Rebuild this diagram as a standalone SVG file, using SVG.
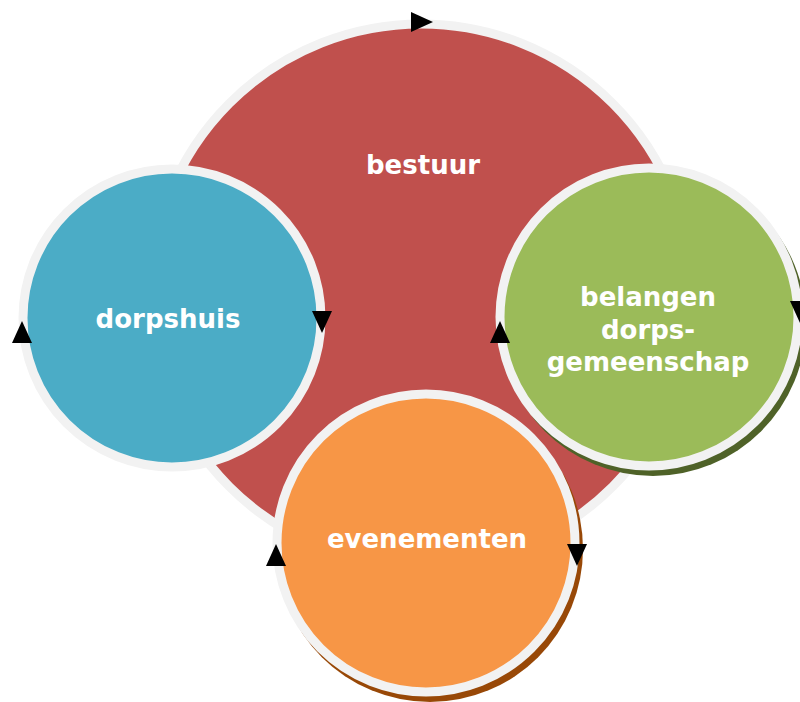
<svg xmlns="http://www.w3.org/2000/svg" width="800" height="702" viewBox="0 0 800 702">
<style>
.ring{stroke:#f2f2f2;stroke-width:9}
.lbl{font-family:"DejaVu Sans",Verdana,sans-serif;font-weight:bold;font-size:26px;fill:#ffffff;text-anchor:middle}
</style>
<defs>
<path id="ah" d="M-11,-10 L11,0 L-11,10 Z" fill="#000000"/>
</defs>
<rect width="800" height="702" fill="#ffffff"/>
<g id="node-bestuur">
<circle class="ring" cx="421" cy="295" r="271" fill="#c0504d"/>
<text class="lbl" x="423" y="174">bestuur</text>
</g>
<g id="node-dorpshuis">
<circle class="ring" cx="172" cy="318" r="149" fill="#4bacc6"/>
<text class="lbl" x="168" y="328">dorpshuis</text>
</g>
<g id="node-belangen">
<circle cx="653" cy="323" r="153" fill="#4f6228"/>
<circle class="ring" cx="649" cy="317" r="149" fill="#9bbb59"/>
<text class="lbl" x="648" y="306">belangen</text>
<text class="lbl" x="648" y="339">dorps-</text>
<text class="lbl" x="648" y="371">gemeenschap</text>
</g>
<g id="node-evenementen">
<circle cx="430" cy="549" r="153" fill="#984807"/>
<circle class="ring" cx="426" cy="543" r="149" fill="#f79646"/>
<text class="lbl" x="427" y="548">evenementen</text>
</g>
<g id="connectors">
<use href="#ah" transform="translate(422,22)"/>
<use href="#ah" transform="translate(322,322) rotate(90)"/>
<use href="#ah" transform="translate(500,332) rotate(-90)"/>
<use href="#ah" transform="translate(800,312) rotate(90)"/>
<use href="#ah" transform="translate(577,555) rotate(90)"/>
<use href="#ah" transform="translate(276,555) rotate(-90)"/>
<use href="#ah" transform="translate(22,332) rotate(-90)"/>
</g>
</svg>
